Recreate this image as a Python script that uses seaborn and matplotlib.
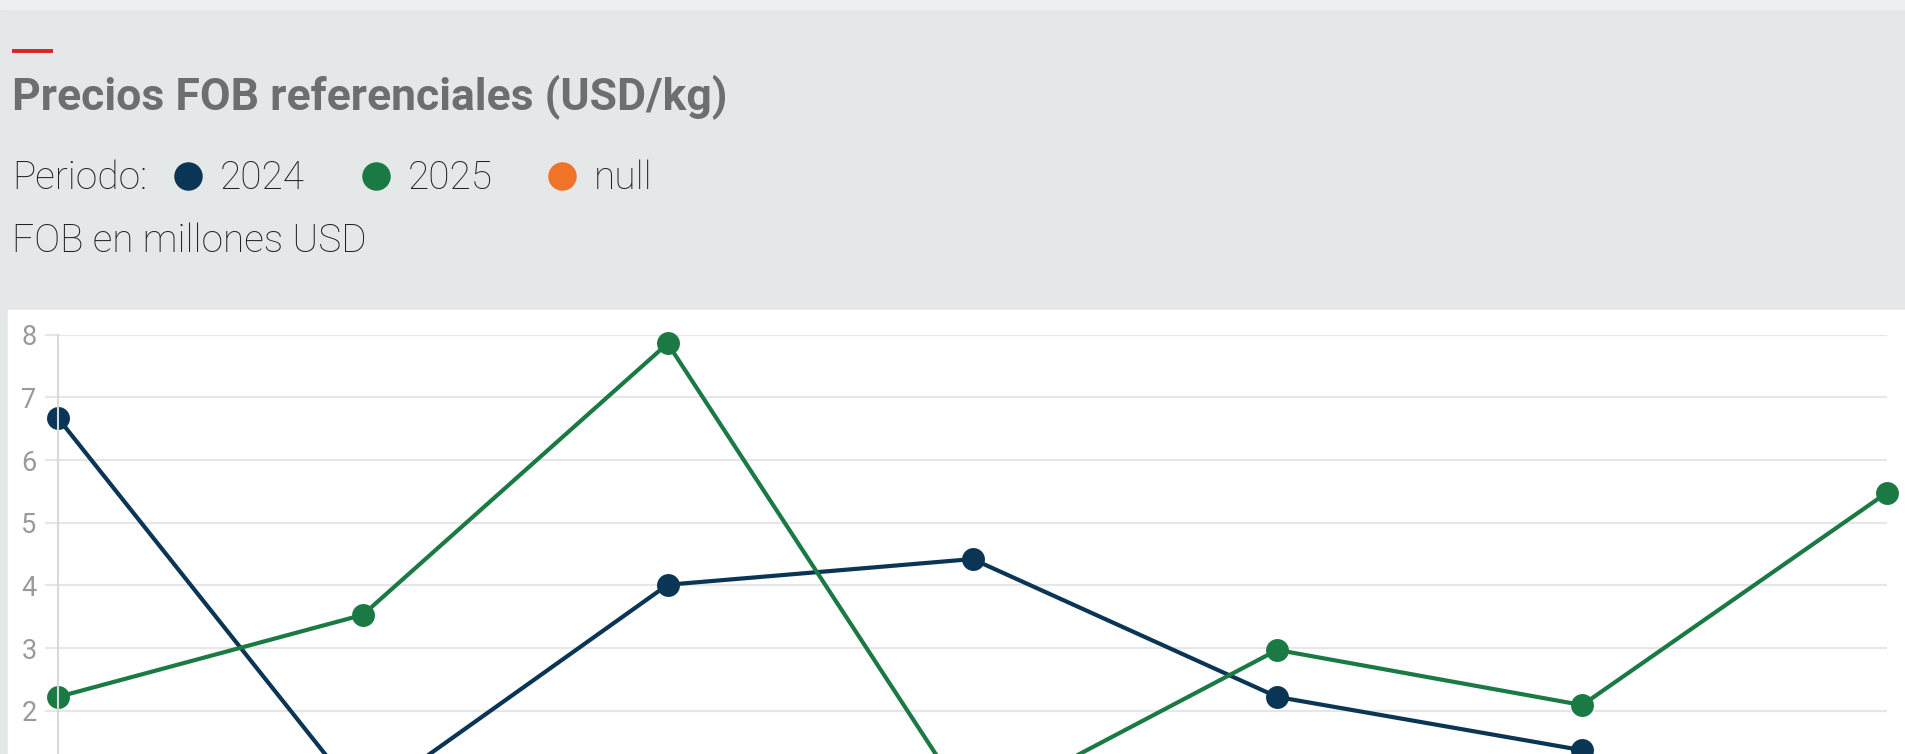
import matplotlib
matplotlib.use("Agg")
import matplotlib.pyplot as plt
from matplotlib.lines import Line2D
from matplotlib.patches import Rectangle
import numpy as np
import pandas as pd
import seaborn as sns

# datos (el eje x queda cortado abajo)
meses = ["Ene", "Feb", "Mar", "Abr", "May", "Jun", "Jul"]
fob_2024 = [6.67, 0.55, 4.01, 4.42, 2.22, 1.37, np.nan]
fob_2025 = [2.22, 3.53, 7.86, 0.41, 2.97, 2.09, 5.48]
periodos = ["2024", "2025", "null"]
colores = ["#0b3554", "#1b7a43", "#f07428"]
y_ticks = [2, 3, 4, 5, 6, 7, 8]   # 0 y 1 quedan fuera del recorte

titulo = "Precios FOB referenciales (USD/kg)"
subtitulo = "FOB en millones USD"

W, H = 1905, 754

sns.set_theme(style="white")
plt.rcParams["font.family"] = ["Roboto", "DejaVu Sans"]

df = pd.DataFrame({
    "pos": list(range(len(meses))) * 2,
    "mes": meses * 2,
    "periodo": [periodos[0]] * len(meses) + [periodos[1]] * len(meses),
    "valor": fob_2024 + fob_2025,
}).dropna()

fig = plt.figure(figsize=(W / 100, H / 100), dpi=100, facecolor="#e4e8e9")

# franja clara arriba y panel blanco del grafico
fig.patches.append(Rectangle((0, 1 - 9 / H), 1, 9 / H, transform=fig.transFigure,
                             color="#edf0f2", zorder=-10))
fig.patches.append(Rectangle((8 / W, 0), 1 - 8 / W, (H - 310) / H, transform=fig.transFigure,
                             color="white", zorder=-10))

# axes: y=8 en 334.7px, 62.67px por unidad -> el fondo queda fuera de la figura
top = 1 - 334.7 / H
bottom = 1 - (334.7 + 8 * 62.67) / H
ax = fig.add_axes([58 / W, bottom, (1887 - 58) / W, top - bottom])
ax.set_zorder(2)
ax.set_facecolor("none")

sns.lineplot(data=df, x="pos", y="valor", hue="periodo", hue_order=periodos[:2],
             palette=colores[:2], marker="o", markersize=16.5, markeredgewidth=0,
             linewidth=3.0, legend=False, ax=ax)
for ln in ax.lines:
    ln.set_clip_on(False)

ax.set_xlim(0, len(meses) - 1)
ax.set_ylim(0, 8)
ax.set_yticks(y_ticks)
ax.set_xticks(range(len(meses)))
ax.set_xticklabels([])
ax.tick_params(axis="x", bottom=False, labelbottom=False)
ax.set_xlabel("")
ax.set_ylabel("")
ax.yaxis.grid(True, color="#e6e6e6", linewidth=1.5)
ax.xaxis.grid(False)
ax.set_axisbelow(True)
for s in ["top", "right", "bottom"]:
    ax.spines[s].set_visible(False)
ax.spines["left"].set_color("#d9d9d9")
ax.spines["left"].set_linewidth(1.5)
ax.tick_params(axis="y", length=9.4, width=1.5, color="#e6e6e6", labelcolor="#9a9a9a",
               labelsize=19.5, pad=6, left=True)

# cabecera
fig.add_artist(Line2D([12 / W, 53 / W], [1 - 51 / H, 1 - 51 / H], color="#d7261e",
                      linewidth=2.8, solid_capstyle="butt"))
fig.text(12 / W, 1 - 110 / H, titulo, fontsize=32, fontweight="bold", color="#6d6e71",
         va="baseline", ha="left")

# leyenda "Periodo:"
ly = 1 - 189 / H
fs = 28
fig.text(12 / W, ly, "Periodo:", fontsize=fs, fontweight="light", color="#1e2428",
         va="baseline", ha="left")
dot_x = [188, 376, 562]
for px, lab, col in zip(dot_x, periodos, colores):
    fig.add_artist(Line2D([px / W], [1 - 176 / H], marker="o", markersize=19.5,
                          color=col, linestyle="none"))
    fig.text((px + 32) / W, ly, lab, fontsize=fs, fontweight="light", color="#1e2428",
             va="baseline", ha="left")

fig.text(12 / W, 1 - 252 / H, subtitulo, fontsize=fs, fontweight="light", color="#1e2428",
         va="baseline", ha="left")

fig.savefig("out.png", dpi=100, facecolor=fig.get_facecolor())
